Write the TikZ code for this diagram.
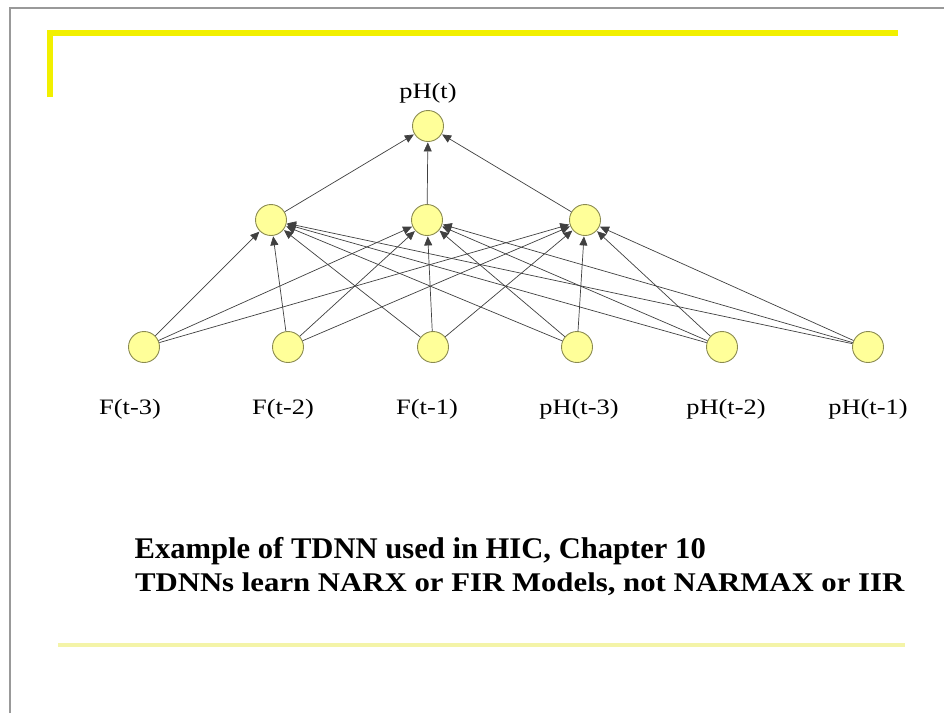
\documentclass[tikz,border=0pt]{standalone}
\usepackage{fontspec}
\setmainfont{Liberation Serif}
\usetikzlibrary{arrows.meta}
\definecolor{neuronfill}{HTML}{FFFF99}
\definecolor{neuronedge}{HTML}{8A8A50}
\definecolor{baryellow}{HTML}{F2F000}
\definecolor{paleyellow}{HTML}{F4F4A8}
\definecolor{wire}{HTML}{404040}
\tikzset{
  neuron/.style={circle, draw=neuronedge, fill=neuronfill, line width=0.9pt, minimum size=31pt, inner sep=0pt},
  lbl/.style={font=\fontsize{22}{24}\selectfont, text=black, xscale=1.2},
  link/.style={draw=wire, line width=0.7pt, -{Triangle[length=9pt,width=8pt]}, shorten >=0.5pt},
}
\begin{document}
\begin{tikzpicture}[x=1pt,y=-1pt]
  \useasboundingbox (0,0) rectangle (944,713);
  \fill[white] (0,0) rectangle (944,713);
  % slide frame
  \draw[gray!80, line width=2pt] (10,713) -- (10,8) -- (944,8);
  % decorative bars
  \draw[baryellow, line width=6pt] (50,97) -- (50,33) -- (898,33);
  \draw[paleyellow, line width=4pt] (58,645) -- (905,645);

  % output layer
  \node[neuron] (o) at (428,126) {};
  \node[lbl] (ol) at (428,93) {pH(t)};
  % hidden layer
  \node[neuron] (h1) at (271,220) {};
  \node[neuron] (h2) at (427,220) {};
  \node[neuron] (h3) at (585,220) {};
  % input layer
  \node[neuron] (i1) at (144,347) {};
  \node[neuron] (i2) at (288,347) {};
  \node[neuron] (i3) at (433,347) {};
  \node[neuron] (i4) at (577,347) {};
  \node[neuron] (i5) at (722,347) {};
  \node[neuron] (i6) at (868,347) {};
  \node[lbl] (l1) at (130,409) {F(t-3)};
  \node[lbl] (l2) at (283,409) {F(t-2)};
  \node[lbl] (l3) at (427,409) {F(t-1)};
  \node[lbl] (l4) at (579,409) {pH(t-3)};
  \node[lbl] (l5) at (726,409) {pH(t-2)};
  \node[lbl] (l6) at (868,409) {pH(t-1)};

  % full connections input -> hidden
  \foreach \i in {1,...,6}
    \foreach \h in {1,2,3}
      \draw[link] (i\i) -- (h\h);
  % hidden -> output
  \foreach \h in {1,2,3}
    \draw[link] (h\h) -- (o);

  % captions
  \node[anchor=west, font=\fontsize{30}{34}\selectfont\bfseries, xscale=1.02] (t1) at (131,551) {Example of TDNN used in HIC, Chapter 10};
  \node[anchor=west, font=\fontsize{27}{31}\selectfont\bfseries, xscale=1.14] (t2) at (131,584) {TDNNs learn NARX or FIR Models, not NARMAX or IIR};
\end{tikzpicture}
\end{document}
